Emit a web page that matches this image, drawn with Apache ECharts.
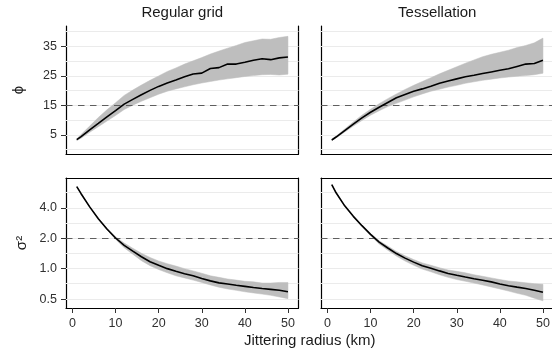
<!DOCTYPE html>
<html><head><meta charset="utf-8">
<script src="https://cdn.jsdelivr.net/npm/echarts@6/dist/echarts.min.js"></script>
<style>html,body{margin:0;padding:0;background:#fff}#c{width:552px;height:352px}</style>
</head><body><div id="c"></div>
<script>
// ---------- data ----------
const panelTitles = ['Regular grid', 'Tessellation'];
const xTitle = 'Jittering radius (km)';
const xKm = [1,2,4,6,8,10,12,14,16,18,20,22,24,26,28,30,32,34,36,38,40,42,44,46,48,50];
const xTicks = [0,10,20,30,40,50];

// phi (top row)
const phiGridMid = [3.4,4.45,6.75,8.9,11.1,13.25,15.45,17.05,18.6,20.1,21.45,22.6,23.6,24.7,25.65,25.95,27.5,27.8,29.0,29.0,29.6,30.3,30.8,30.5,31.1,31.4];
const phiGridHi  = [3.7,5.15,8.0,10.9,13.5,15.9,18.4,20.2,21.9,23.5,25.0,26.5,27.7,29.0,30.1,31.2,32.4,33.4,34.4,35.3,36.3,36.9,37.5,37.4,38.0,38.4];
const phiGridLo  = [3.1,3.9,5.9,7.8,9.7,11.6,13.6,15.1,16.4,17.6,18.8,19.8,20.6,21.3,22.0,22.6,23.1,23.6,24.0,24.4,24.8,25.1,25.4,25.5,25.3,25.6];
const phiTessMid = [3.3,4.3,6.5,8.7,10.8,12.7,14.4,16.0,17.6,18.7,19.8,20.6,21.5,22.5,23.25,24.0,24.7,25.2,25.8,26.35,26.9,27.4,28.2,29.0,29.2,30.3];
const phiTessHi  = [3.5,4.6,7.0,9.4,11.7,13.7,15.6,17.3,18.9,20.4,21.8,23.1,24.4,25.7,26.9,28.1,29.3,30.4,31.5,32.3,33.0,33.7,34.6,35.3,36.2,37.8];
const phiTessLo  = [3.1,4.0,6.0,8.0,9.9,11.7,13.2,14.6,15.7,16.8,17.9,18.9,19.8,20.5,21.2,21.8,22.5,23.0,23.5,23.9,24.3,24.6,24.9,25.1,25.4,25.9];
const phiTicks = [5,15,25,35];
const phiMinor = [0,10,20,30,40];
const phiRef = 15;

// sigma^2 (bottom row, log scale)
const sigGridMid = [6.48,5.51,4.08,3.12,2.47,2.01,1.70,1.49,1.31,1.17,1.08,1.0,0.942,0.891,0.849,0.80,0.757,0.723,0.705,0.686,0.668,0.650,0.635,0.623,0.611,0.591];
const sigGridHi  = [6.53,5.56,4.12,3.15,2.51,2.07,1.79,1.59,1.42,1.29,1.19,1.12,1.06,1.0,0.95,0.90,0.85,0.82,0.79,0.77,0.75,0.74,0.72,0.72,0.73,0.73];
const sigGridLo  = [6.43,5.46,4.04,3.09,2.43,1.95,1.61,1.39,1.20,1.07,0.98,0.91,0.85,0.81,0.77,0.73,0.69,0.655,0.63,0.61,0.59,0.575,0.56,0.545,0.525,0.505];
const sigTessMid = [6.77,5.63,4.18,3.29,2.66,2.18,1.83,1.60,1.41,1.27,1.16,1.07,1.01,0.95,0.897,0.859,0.826,0.795,0.767,0.740,0.705,0.678,0.656,0.636,0.612,0.584];
const sigTessHi  = [6.82,5.67,4.22,3.33,2.70,2.23,1.89,1.67,1.48,1.34,1.23,1.14,1.08,1.02,0.97,0.94,0.91,0.87,0.84,0.81,0.78,0.755,0.74,0.725,0.71,0.70];
const sigTessLo  = [6.72,5.59,4.14,3.25,2.61,2.12,1.75,1.52,1.33,1.19,1.08,0.99,0.93,0.87,0.82,0.78,0.75,0.72,0.69,0.66,0.63,0.60,0.57,0.545,0.51,0.48];
const sigTicks = [0.5,1,2,4];
const sigMinor = [0.707,1.414,2.828,5.657];
const sigRef = 2;

// ---------- layout / style ----------
const FONT = "'Liberation Sans', Arial, Helvetica, sans-serif";
const colCfg = [{left: 66, width: 232.5}, {left: 321, width: 232.5}];
const rowCfg = [
  {top: 26, height: 128, type: 'value', min: -1.45, max: 41.9, ticks: phiTicks, lines: phiTicks.concat(phiMinor),
   ref: phiRef, name: 'ϕ', gap: 40, fmt: v => String(v)},
  {top: 178, height: 130, type: 'log', min: 0.408, max: 7.88, ticks: sigTicks, lines: sigTicks.concat(sigMinor),
   ref: sigRef, name: 'σ²', gap: 37, fmt: v => v.toFixed(1)}
];
const panels = [
  {row: 0, col: 0, mid: phiGridMid, lo: phiGridLo, hi: phiGridHi},
  {row: 0, col: 1, mid: phiTessMid, lo: phiTessLo, hi: phiTessHi},
  {row: 1, col: 0, mid: sigGridMid, lo: sigGridLo, hi: sigGridHi},
  {row: 1, col: 1, mid: sigTessMid, lo: sigTessLo, hi: sigTessHi}
];
const AX = '#000', TICKC = '#333', TXT = '#303030', GRIDC = '#EBEBEB';

const grids = [], xAxes = [], yAxes = [], series = [];
panels.forEach((p, i) => {
  const r = rowCfg[p.row], c = colCfg[p.col];
  grids.push({left: c.left, top: r.top, width: c.width, height: r.height, containLabel: false, outerBoundsMode: 'none'});
  const bottomRow = p.row === 1, leftCol = p.col === 0;
  xAxes.push({
    type: 'value', gridIndex: i, min: -1.5, max: 52.45, position: 'bottom',
    axisLine: {show: true, onZero: false, lineStyle: {color: AX, width: 1.2}},
    axisTick: {show: bottomRow, length: 5, customValues: xTicks, lineStyle: {color: TICKC, width: 1}},
    axisLabel: {show: bottomRow, customValues: xTicks, margin: 9, fontSize: 12.5, color: TXT, fontFamily: FONT},
    splitLine: {show: false}
  });
  const y = {
    type: r.type, gridIndex: i, min: r.min, max: r.max, position: 'left',
    axisLine: {show: true, onZero: false, lineStyle: {color: AX, width: 1.2}},
    axisTick: {show: leftCol, length: 5, customValues: r.ticks, lineStyle: {color: TICKC, width: 1}},
    axisLabel: {show: leftCol, customValues: r.ticks, margin: 9, fontSize: 12.5, color: TXT, fontFamily: FONT,
      formatter: v => r.fmt(v)},
    splitLine: {show: false}
  };
  if (r.type === 'log') y.logBase = 2;
  if (leftCol) {
    Object.assign(y, {name: r.name, nameLocation: 'middle', nameRotate: 90, nameGap: r.gap, nameMoveOverlap: false,
      nameTextStyle: {fontSize: 15, color: '#1a1a1a', fontFamily: FONT}});
  }
  yAxes.push(y);

  const data = xKm.map((x, k) => [x, p.mid[k]]);
  // background grid lines
  series.push({
    type: 'line', xAxisIndex: i, yAxisIndex: i, data: data, z: 1, silent: true, showSymbol: false,
    lineStyle: {opacity: 0}, animation: false,
    markLine: {z: 1, silent: true, symbol: ['none', 'none'], animation: false, label: {show: false},
      lineStyle: {type: 'solid', color: GRIDC, width: 1},
      emphasis: {disabled: true},
      data: r.lines.map(v => ({yAxis: v}))}
  });
  // ribbon
  series.push({
    type: 'custom', xAxisIndex: i, yAxisIndex: i, z: 2, silent: true, animation: false,
    data: xKm.map((x, k) => [x, p.lo[k], p.hi[k]]),
    encode: {x: 0, y: [1, 2]},
    renderItem: (params, api) => {
      if (params.dataIndex !== 0) return null;
      const pts = [];
      for (let k = 0; k < xKm.length; k++) pts.push(api.coord([xKm[k], p.hi[k]]));
      for (let k = xKm.length - 1; k >= 0; k--) pts.push(api.coord([xKm[k], p.lo[k]]));
      return {type: 'polygon', shape: {points: pts}, style: {fill: '#BEBEBE', stroke: '#BEBEBE', lineWidth: 0.5}};
    }
  });
  // reference dashed line
  series.push({
    type: 'line', xAxisIndex: i, yAxisIndex: i, data: data, z: 3, silent: true, showSymbol: false,
    lineStyle: {opacity: 0}, animation: false,
    markLine: {z: 3, silent: true, symbol: ['none', 'none'], animation: false, label: {show: false},
      emphasis: {disabled: true},
      lineStyle: {type: [6.5, 5.5], color: '#5f5f5f', width: 1.1},
      data: [{yAxis: r.ref}]}
  });
  // mean line
  series.push({
    type: 'line', xAxisIndex: i, yAxisIndex: i, data: data, z: 4, silent: true, showSymbol: false,
    animation: false, lineStyle: {type: 'solid', color: '#000', width: 1.6}
  });
});
// extra border axes: right side for all panels, top side for bottom row
panels.forEach((p, i) => {
  yAxes.push({type: 'value', gridIndex: i, position: 'right',
    axisLine: {show: true, onZero: false, lineStyle: {color: AX, width: 1.2}},
    axisTick: {show: false}, axisLabel: {show: false}, splitLine: {show: false}});
  if (p.row === 1) {
    xAxes.push({type: 'value', gridIndex: i, position: 'top',
      axisLine: {show: true, onZero: false, lineStyle: {color: AX, width: 1.2}},
      axisTick: {show: false}, axisLabel: {show: false}, splitLine: {show: false}});
  }
});

const graphic = [];
colCfg.forEach((c, j) => {
  graphic.push({type: 'text', x: c.left + c.width / 2, y: 12.5, silent: true,
    style: {text: panelTitles[j], fontSize: 15, fontFamily: FONT, fill: '#1a1a1a', align: 'center', verticalAlign: 'middle'}});
});
graphic.push({type: 'text', x: (colCfg[0].left + colCfg[1].left + colCfg[1].width) / 2, y: 340.5, silent: true,
  style: {text: xTitle, fontSize: 15, fontFamily: FONT, fill: '#1a1a1a', align: 'center', verticalAlign: 'middle'}});

const chart = echarts.init(document.getElementById('c'), null, {renderer: 'canvas'});
chart.setOption({
  animation: false,
  backgroundColor: '#fff',
  grid: grids, xAxis: xAxes, yAxis: yAxes, series: series, graphic: graphic
});
</script></body></html>
